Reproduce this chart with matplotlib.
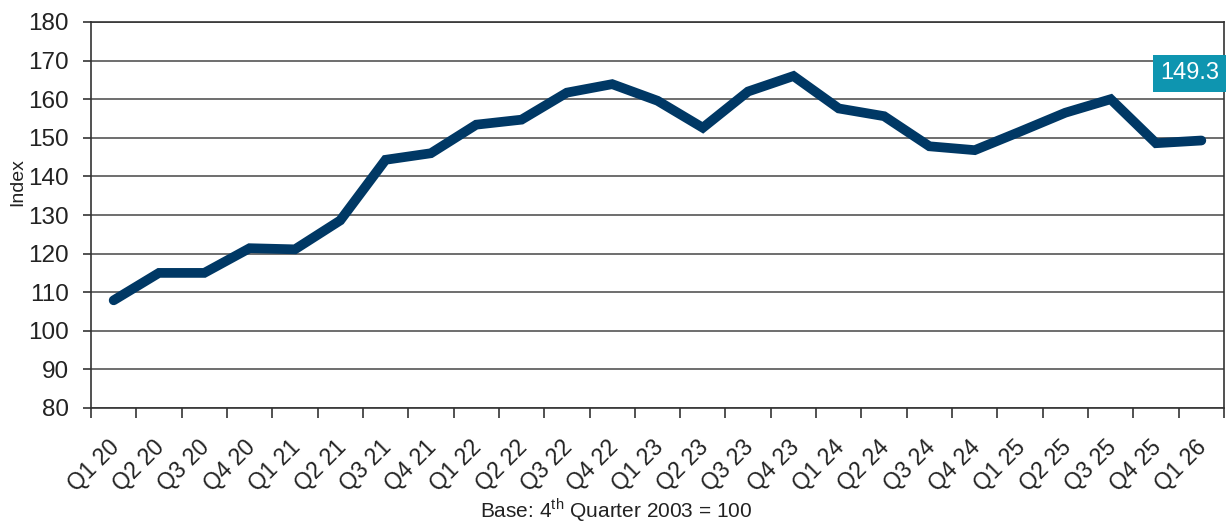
import matplotlib
matplotlib.use("Agg")
import matplotlib.pyplot as plt
from matplotlib.transforms import ScaledTranslation
import numpy as np

categories = ["Q1 20", "Q2 20", "Q3 20", "Q4 20", "Q1 21", "Q2 21", "Q3 21", "Q4 21",
              "Q1 22", "Q2 22", "Q3 22", "Q4 22", "Q1 23", "Q2 23", "Q3 23", "Q4 23",
              "Q1 24", "Q2 24", "Q3 24", "Q4 24", "Q1 25", "Q2 25", "Q3 25", "Q4 25", "Q1 26"]
values = [107.9, 115.0, 115.0, 121.4, 121.1, 128.6, 144.3, 146.0,
          153.4, 154.7, 161.7, 163.9, 159.6, 152.6, 162.0, 166.0,
          157.6, 155.6, 147.8, 146.8, 151.6, 156.5, 160.0, 148.6, 149.3]
y_ticks = [80, 90, 100, 110, 120, 130, 140, 150, 160, 170, 180]

plt.rcParams['font.family'] = ['Liberation Sans', 'DejaVu Sans']
plt.rcParams['mathtext.fontset'] = 'custom'
plt.rcParams['mathtext.rm'] = 'Liberation Sans'

fig = plt.figure(figsize=(12.28, 5.23), dpi=100)
ax = fig.add_axes([91/1228, 1 - 408/523, (1224 - 91)/1228, (408 - 22)/523])

x = np.arange(len(categories))
ax.plot(x, values, color='#003865', lw=7, solid_capstyle='round', solid_joinstyle='miter', zorder=3)

ax.set_xlim(-0.5, len(categories) - 0.5)
ax.set_ylim(y_ticks[0], y_ticks[-1])
ax.set_yticks(y_ticks)
ax.set_yticklabels([str(t) for t in y_ticks], fontsize=17.5, color='#222222')
ax.yaxis.grid(True, color='#555555', lw=1.2)
ax.set_axisbelow(True)

ax.set_xticks(x)
ax.set_xticklabels(categories, rotation=45, ha='right', rotation_mode='anchor', fontsize=16.5, color='#222222')
ax.set_xticks(np.arange(-0.5, len(categories)), minor=True)
ax.tick_params(axis='x', which='major', length=0, pad=15)
ax.tick_params(axis='x', which='minor', length=7, width=1.2, color='#333333')
ax.tick_params(axis='y', length=6, width=1.2, color='#333333', pad=10)
offset = ScaledTranslation(-0.06, -0.07, fig.dpi_scale_trans)
for lbl in ax.get_xticklabels():
    lbl.set_transform(lbl.get_transform() + offset)

for s in ax.spines.values():
    s.set_color('#333333')
    s.set_linewidth(1.2)

fig.text(18/1228, 1 - 182/523, 'Index', rotation=90, ha='center', va='center', fontsize=14, color='#222222')
fig.text(616/1228, 1 - 518/523, 'Base: 4$^{\\mathrm{th}}$ Quarter 2003 = 100', ha='center', va='baseline',
         fontsize=15, color='#222222')

ax.text(0.9955, 0.8666, f'{values[-1]:.1f}', transform=ax.transAxes, ha='right', va='center',
        fontsize=17, color='white',
        bbox=dict(boxstyle='square,pad=0.3', facecolor='#0e95b0', edgecolor='none'))

fig.savefig('out.png', dpi=100)
